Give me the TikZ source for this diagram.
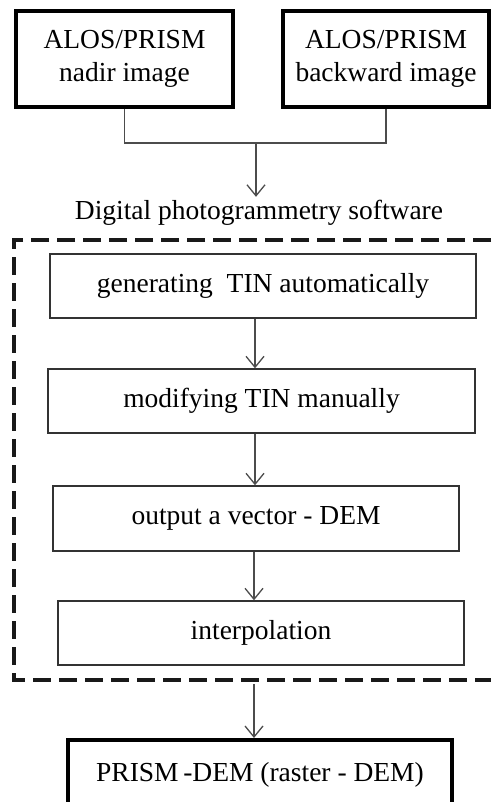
\documentclass[tikz,border=0pt]{standalone}
\usepackage{fontspec}
\setmainfont{Liberation Serif}
\usetikzlibrary{%
  arrows.meta,%
  calc%
}
\tikzset{>={Straight Barb[length=11pt,width=18pt,line width=1.3pt]}}
\tikzset{
  heavybox/.style={draw=black,line width=4pt,inner sep=0pt,align=center},
  thinbox/.style={draw=black!80,line width=1.4pt,inner sep=0pt,align=center},
  link/.style={draw=black!70,line width=1.3pt}
}

\begin{document}
\begin{tikzpicture}[x=1pt,y=-1pt,font=\fontsize{27.5}{33}\selectfont]
    \useasboundingbox (0,0) rectangle (491,802);
    \node[heavybox,minimum width=217pt,minimum height=96pt] (nadir) at (124.5,59)
    {ALOS/PRISM\\nadir image};
    \node[heavybox,minimum width=206pt,minimum height=96pt] (backward) at (386,59)
    {ALOS/PRISM\\backward image};
    \coordinate (join) at (256,143);
    \draw[link] (nadir.south) |- (join) -| (backward.south);
    \node (soft) at (259,213) {Digital photogrammetry software};
    \draw[link,->] (join) -- (soft.north -| join);
    \draw[black!90,line width=3.2pt,dash pattern=on 18pt off 8pt]
    (491,240) -- (14,240) -- (14,680) -- (491,680);
    \node[thinbox,minimum width=426pt,minimum height=64pt] (gen) at (263,286)
    {generating\ \ TIN automatically};
    \node[thinbox,minimum width=427pt,minimum height=64pt] (mod) at (261.5,401)
    {modifying TIN manually};
    \node[thinbox,minimum width=406pt,minimum height=65pt] (vec) at (256,518.5)
    {output a vector - DEM};
    \node[thinbox,minimum width=406pt,minimum height=64pt] (interp) at (261,633)
    {interpolation};
    \coordinate (col) at (255,0);
    \draw[link,->] (gen.south -| col) -- (mod.north -| col);
    \draw[link,->] (mod.south -| col) -- (vec.north -| col);
    \draw[link,->] (vec.south -| 254,0) -- (interp.north -| 254,0);
    \coordinate (exit) at (254,684);
    \node[heavybox,minimum width=384pt,minimum height=70pt] (raster) at (260,775)
    {PRISM\,-DEM (raster - DEM)};
    \draw[link,->] (exit) -- (raster.north -| exit);
\end{tikzpicture}
\end{document}
